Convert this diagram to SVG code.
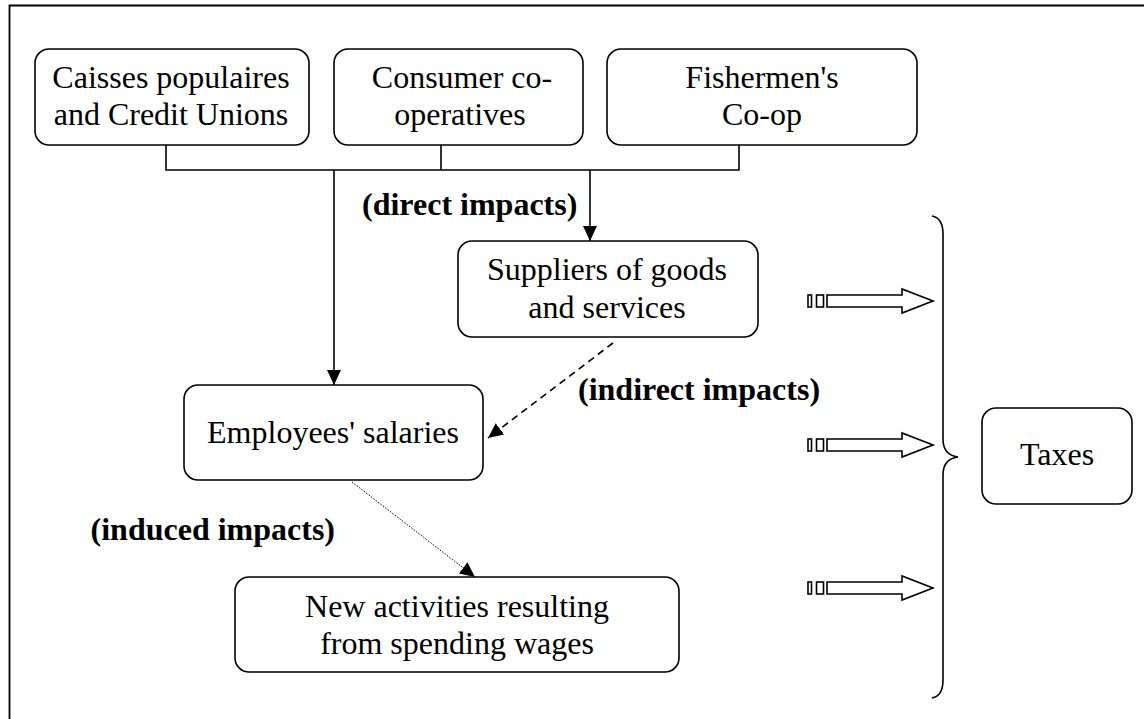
<svg xmlns="http://www.w3.org/2000/svg" width="1144" height="719" viewBox="0 0 1144 719">
<style>
.box{fill:#fff;stroke:#000;stroke-width:1.6}
.t{font-family:"Liberation Serif","Times New Roman",serif;font-size:32px;fill:#000;text-anchor:middle}
.lb{font-family:"Liberation Serif","Times New Roman",serif;font-size:32px;font-weight:bold;fill:#000}
.ln{fill:none;stroke:#000;stroke-width:1.6}
.blk{fill:#fff;stroke:#000;stroke-width:1.6}
</style>
<defs>
<marker id="ah" markerUnits="userSpaceOnUse" markerWidth="16" markerHeight="14" refX="15" refY="7" orient="auto">
<path d="M0,0 L15,7 L0,14 z" fill="#000"/>
</marker>
</defs>
<rect width="1144" height="719" fill="#fff"/>
<path d="M9.5,719 L9.5,5.5 L1144,5.5" fill="none" stroke="#000" stroke-width="1.8"/>

<g id="caisses">
<rect class="box" x="35" y="49" width="274" height="96" rx="14"/>
<text class="t" x="171" y="88">Caisses populaires</text>
<text class="t" x="171" y="125">and Credit Unions</text>
</g>
<g id="consumer">
<rect class="box" x="334" y="49" width="249" height="96" rx="14"/>
<text class="t" x="462" y="88">Consumer co-</text>
<text class="t" x="460" y="125">operatives</text>
</g>
<g id="fishermen">
<rect class="box" x="607" y="49" width="310" height="96" rx="14"/>
<text class="t" x="762" y="88">Fishermen's</text>
<text class="t" x="762" y="125">Co-op</text>
</g>
<g id="suppliers">
<rect class="box" x="458" y="241" width="300" height="96" rx="14"/>
<text class="t" x="607" y="280">Suppliers of goods</text>
<text class="t" x="607" y="318">and services</text>
</g>
<g id="employees">
<rect class="box" x="184" y="385" width="299" height="95" rx="14"/>
<text class="t" x="333" y="443">Employees' salaries</text>
</g>
<g id="newact">
<rect class="box" x="235" y="577" width="444" height="95" rx="14"/>
<text class="t" x="457" y="617">New activities resulting</text>
<text class="t" x="457" y="654">from spending wages</text>
</g>
<g id="taxes">
<rect class="box" x="982" y="408" width="150" height="96" rx="14"/>
<text class="t" x="1057" y="465">Taxes</text>
</g>

<g id="labels">
<text class="lb" x="362" y="215">(direct impacts)</text>
<text class="lb" x="578" y="400">(indirect impacts)</text>
<text class="lb" x="335" y="540" text-anchor="end">(induced impacts)</text>
</g>

<g id="connectors">
<path class="ln" d="M166,145 V170 H739 V145 M441,145 V170"/>
<line class="ln" x1="334" y1="170" x2="334" y2="385" marker-end="url(#ah)"/>
<line class="ln" x1="590" y1="170" x2="590" y2="241" marker-end="url(#ah)"/>
<line class="ln" x1="613" y1="343" x2="488" y2="438" stroke-dasharray="7 5" marker-end="url(#ah)"/>
<line x1="352" y1="482" x2="475" y2="577" stroke="#000" stroke-width="1" stroke-dasharray="1.5 1.5" marker-end="url(#ah)"/>
<path class="ln" d="M932,216 Q943,218 943,234 L943,439 Q943,455 958,457 Q943,459 943,475 L943,680 Q943,696 932,698"/>
<g id="arrow1">
<rect class="blk" x="808" y="295" width="3.5" height="12"/>
<rect class="blk" x="816.5" y="295" width="7" height="12"/>
<path class="blk" d="M827,295 H902 V289 L933,301 L902,313 V307 H827 Z"/>
</g>
<g id="arrow2">
<rect class="blk" x="808" y="439" width="3.5" height="12"/>
<rect class="blk" x="816.5" y="439" width="7" height="12"/>
<path class="blk" d="M827,439 H902 V433 L933,445 L902,457 V451 H827 Z"/>
</g>
<g id="arrow3">
<rect class="blk" x="808" y="582" width="3.5" height="12"/>
<rect class="blk" x="816.5" y="582" width="7" height="12"/>
<path class="blk" d="M827,582 H902 V576 L933,588 L902,600 V594 H827 Z"/>
</g>
</g>
</svg>
